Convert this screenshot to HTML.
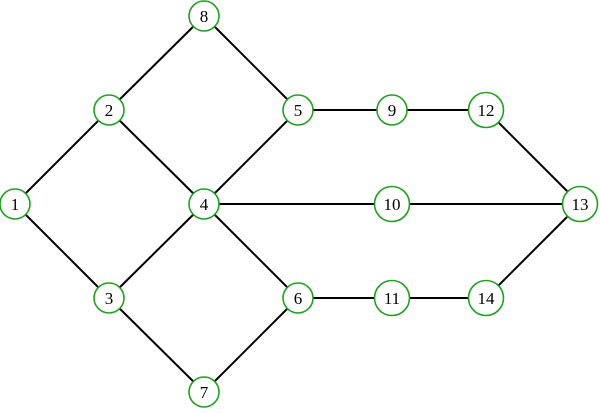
<!DOCTYPE html>
<html><head><style>html,body{margin:0;padding:0;background:#fff}</style></head><body>
<svg width="600" height="408" viewBox="0 0 600 408" xmlns="http://www.w3.org/2000/svg">
<g stroke="#000" stroke-width="2">
<line x1="15" y1="204" x2="109" y2="110"/>
<line x1="15" y1="204" x2="109" y2="298"/>
<line x1="109" y1="110" x2="204" y2="16"/>
<line x1="109" y1="110" x2="204" y2="204"/>
<line x1="109" y1="298" x2="204" y2="204"/>
<line x1="109" y1="298" x2="204" y2="392"/>
<line x1="204" y1="16" x2="298" y2="110"/>
<line x1="204" y1="204" x2="298" y2="110"/>
<line x1="204" y1="204" x2="298" y2="298"/>
<line x1="204" y1="392" x2="298" y2="298"/>
<line x1="204" y1="204" x2="580" y2="204"/>
<line x1="298" y1="110" x2="486" y2="110"/>
<line x1="298" y1="298" x2="486" y2="298"/>
<line x1="486" y1="110" x2="580" y2="204"/>
<line x1="486" y1="298" x2="580" y2="204"/>
</g>
<g fill="#fff" stroke="#22a022" stroke-width="1.6">
<circle cx="15" cy="204" r="15"/>
<circle cx="109" cy="110" r="15"/>
<circle cx="109" cy="298" r="15"/>
<circle cx="204" cy="204" r="15"/>
<circle cx="298" cy="110" r="15"/>
<circle cx="298" cy="298" r="15"/>
<circle cx="204" cy="392" r="15"/>
<circle cx="204" cy="16" r="15"/>
<circle cx="392" cy="110" r="15"/>
<circle cx="392" cy="204" r="17.5"/>
<circle cx="392" cy="298" r="17.5"/>
<circle cx="486" cy="110" r="17.5"/>
<circle cx="580" cy="204" r="17.5"/>
<circle cx="486" cy="298" r="17.5"/>
</g>
<g font-family="Liberation Serif, serif" font-size="17" text-anchor="middle" fill="#000">
<text x="15" y="210">1</text>
<text x="109" y="116">2</text>
<text x="109" y="304">3</text>
<text x="204" y="210">4</text>
<text x="298" y="116">5</text>
<text x="298" y="304">6</text>
<text x="204" y="398">7</text>
<text x="204" y="22">8</text>
<text x="392" y="116">9</text>
<text x="392" y="210">10</text>
<text x="392" y="304">11</text>
<text x="486" y="116">12</text>
<text x="580" y="210">13</text>
<text x="486" y="304">14</text>
</g>
</svg>
</body></html>
